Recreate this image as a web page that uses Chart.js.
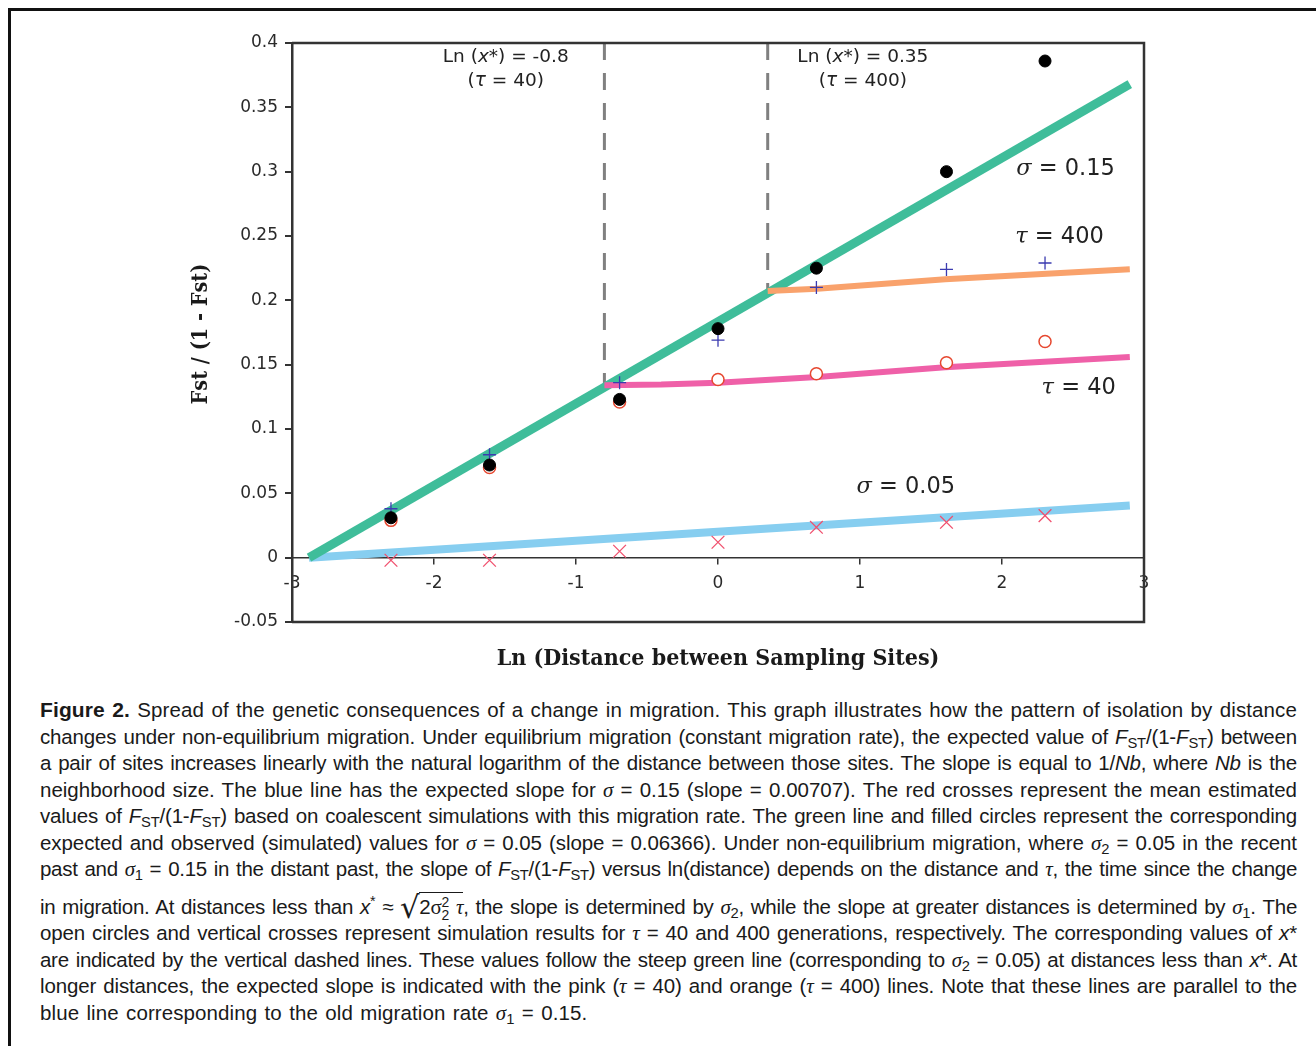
<!DOCTYPE html>
<html><head><meta charset="utf-8">
<script src="https://cdn.jsdelivr.net/npm/chart.js@4.4.0/dist/chart.umd.min.js"></script>
<style>
html,body{margin:0;padding:0;background:#fff;width:1316px;height:1046px;overflow:hidden;position:relative;}
#frame{position:absolute;left:8px;top:8px;width:1400px;height:1100px;border-left:3px solid #111;border-top:3px solid #111;}
#wrap{position:absolute;left:0;top:0;width:1316px;height:690px;}
.cap{position:absolute;left:40px;width:1257px;font-family:"Liberation Sans",Arial,sans-serif;font-size:20.5px;color:#1a1a1a;white-space:nowrap;line-height:26px;height:26px;}
.cap b{font-weight:bold;font-size:21px;}
.g{font-family:"Liberation Serif",serif;font-style:italic;font-size:21px;}
.cap sub{font-size:0.72em;line-height:0;vertical-align:-0.3em;}
.ss{display:inline-block;vertical-align:-0.45em;font-size:0.68em;line-height:0.95;text-align:left;}
.ss span{display:block;}
.rad{font-size:1.5em;font-family:"DejaVu Sans";vertical-align:-0.12em;line-height:0;}
.ov{border-top:1.3px solid #1a1a1a;padding-top:2px;}
</style></head>
<body>
<div id="frame"></div>
<div id="wrap"><canvas id="c" width="1316" height="690"></canvas></div>

<div class="cap j" style="top:697px"><span><b>Figure 2.</b> Spread of the genetic consequences of a change in migration. This graph illustrates how the pattern of isolation by distance</span></div>
<div class="cap j" style="top:724px"><span>changes under non-equilibrium migration. Under equilibrium migration (constant migration rate), the expected value of <i>F</i><sub>ST</sub>/(1-<i>F</i><sub>ST</sub>) between</span></div>
<div class="cap j" style="top:750px"><span>a pair of sites increases linearly with the natural logarithm of the distance between those sites. The slope is equal to 1/<i>Nb</i>, where <i>Nb</i> is the</span></div>
<div class="cap j" style="top:777px"><span>neighborhood size. The blue line has the expected slope for <span class="g">σ</span> = 0.15 (slope = 0.00707). The red crosses represent the mean estimated</span></div>
<div class="cap j" style="top:803px"><span>values of <i>F</i><sub>ST</sub>/(1-<i>F</i><sub>ST</sub>) based on coalescent simulations with this migration rate. The green line and filled circles represent the corresponding</span></div>
<div class="cap j" style="top:830px"><span>expected and observed (simulated) values for <span class="g">σ</span> = 0.05 (slope = 0.06366). Under non-equilibrium migration, where <span class="g">σ</span><sub>2</sub> = 0.05 in the recent</span></div>
<div class="cap j" style="top:856px"><span>past and <span class="g">σ</span><sub>1</sub> = 0.15 in the distant past, the slope of <i>F</i><sub>ST</sub>/(1-<i>F</i><sub>ST</sub>) versus ln(distance) depends on the distance and <span class="g">τ</span>, the time since the change</span></div>
<div class="cap j" style="top:888px"><span>in migration. At distances less than <i>x</i><sup style="font-size:0.7em">*</sup> ≈ <span class="rad">√</span><span class="ov">2<span class="g" style="font-style:normal">σ</span><span class="ss"><span>2</span><span>2</span></span> <span class="g">τ</span></span>, the slope is determined by <span class="g">σ</span><sub>2</sub>, while the slope at greater distances is determined by <span class="g">σ</span><sub>1</sub>. The</span></div>
<div class="cap j" style="top:920px"><span>open circles and vertical crosses represent simulation results for <span class="g">τ</span> = 40 and 400 generations, respectively. The corresponding values of <i>x</i>*</span></div>
<div class="cap j" style="top:947px"><span>are indicated by the vertical dashed lines. These values follow the steep green line (corresponding to <span class="g">σ</span><sub>2</sub> = 0.05) at distances less than <i>x</i>*. At</span></div>
<div class="cap j" style="top:973px"><span>longer distances, the expected slope is indicated with the pink (<span class="g">τ</span> = 40) and orange (<span class="g">τ</span> = 400) lines. Note that these lines are parallel to the</span></div>
<div class="cap" style="top:1000px"><span style="letter-spacing:0.1px;word-spacing:1.5px">blue line corresponding to the old migration rate <span class="g">σ</span><sub>1</sub> = 0.15.</span></div>

<script>
// ---- Data ----
const lnDistance = [-2.303, -1.609, -0.693, 0, 0.693, 1.609, 2.303];
const sigma005Simulated = [0.031, 0.072, 0.123, 0.178, 0.225, 0.300, 0.386];   // filled circles
const tau400Simulated   = [0.038, 0.080, 0.136, 0.169, 0.210, 0.224, 0.229];   // vertical crosses (+)
const tau40Simulated    = [0.029, 0.070, 0.121, 0.1385, 0.143, 0.1515, 0.168]; // open circles
const sigma015Simulated = [-0.002, -0.002, 0.005, 0.012, 0.0236, 0.0275, 0.0327]; // red crosses (x)

const greenLineX = [-2.88, 2.9];
const greenLineY = [0, 0.368];
const blueLineX = [-2.88, 2.9];
const blueLineY = [0, 0.0405];
const pinkLineX = [-0.8, -0.4, 0, 0.7, 1.6, 2.9];
const pinkLineY = [0.134, 0.1345, 0.136, 0.1405, 0.148, 0.156];
const orangeLineX = [0.35, 0.7, 1.6, 2.9];
const orangeLineY = [0.2073, 0.209, 0.2163, 0.2241];
const dashedX = [-0.8, 0.35];
const dashedTopY = [0.4, 0.4];
const dashedBottomY = [0.134, 0.207];

const xTickValues = [-3, -2, -1, 0, 1, 2, 3];
const yTickValues = [-0.05, 0, 0.05, 0.1, 0.15, 0.2, 0.25, 0.3, 0.35, 0.4];

const zip = (xs, ys) => xs.map((x, i) => ({x, y: ys[i]}));

const lineDs = (xs, ys, color, w, order) => ({
  data: zip(xs, ys), showLine: true, pointRadius: 0, borderColor: color,
  borderWidth: w, borderCapStyle: 'butt', borderJoinStyle: 'round', order, tension: 0
});

const datasets = [
  lineDs(blueLineX, blueLineY, '#87cef0', 8, 10),
  lineDs(greenLineX, greenLineY, '#3fbd9a', 9, 9),
  lineDs(pinkLineX, pinkLineY, '#ef60a8', 6, 8),
  lineDs(orangeLineX, orangeLineY, '#f9a26c', 6, 8),
  {data: [{x: dashedX[0], y: dashedTopY[0]}, {x: dashedX[0], y: dashedBottomY[0]}], showLine: true, pointRadius: 0,
   borderColor: '#808080', borderWidth: 3, borderDash: [17, 13], borderCapStyle: 'butt', order: 11},
  {data: [{x: dashedX[1], y: dashedTopY[1]}, {x: dashedX[1], y: dashedBottomY[1]}], showLine: true, pointRadius: 0,
   borderColor: '#808080', borderWidth: 3, borderDash: [17, 13], borderCapStyle: 'butt', order: 11},
  {data: zip(lnDistance, sigma015Simulated), pointStyle: 'crossRot', pointRadius: 9, borderColor: '#f0506e', borderWidth: 1.3, order: 5},
  {data: zip(lnDistance, tau40Simulated), pointStyle: 'circle', pointRadius: 6, backgroundColor: '#ffffff', borderColor: '#e6472f', borderWidth: 1.5, order: 4},
  {data: zip(lnDistance, tau400Simulated), pointStyle: 'cross', pointRadius: 6.5, borderColor: '#3b3bb0', borderWidth: 1.3, order: 3},
  {data: zip(lnDistance, sigma005Simulated), pointStyle: 'circle', pointRadius: 6, backgroundColor: '#000000', borderColor: '#000000', borderWidth: 1, order: 2},
];

function drawRich(ctx, segs, cx, cy) {
  let total = 0;
  segs.forEach(s => { ctx.font = s.f; total += ctx.measureText(s.t).width; });
  let x = cx - total / 2;
  segs.forEach(s => { ctx.font = s.f; ctx.fillText(s.t, x, cy); x += ctx.measureText(s.t).width; });
}

const decorPlugin = {
  id: 'decor',
  afterDraw(chart) {
    const {ctx, chartArea: a, scales: {x, y}} = chart;
    ctx.save();
    ctx.strokeStyle = '#333';
    ctx.lineWidth = 2.5;
    ctx.beginPath();
    ctx.moveTo(a.left, a.top); ctx.lineTo(a.right, a.top); ctx.lineTo(a.right, a.bottom); ctx.lineTo(a.left, a.bottom);
    ctx.stroke();

    ctx.fillStyle = '#222';
    ctx.textBaseline = 'middle';
    ctx.textAlign = 'left';
    const N = '18.5px "DejaVu Sans"', I = 'italic 18.5px "DejaVu Sans"';
    drawRich(ctx, [{t: 'Ln (', f: N}, {t: 'x', f: I}, {t: '*) = -0.8', f: N}], x.getPixelForValue(-1.495), y.getPixelForValue(0.389));
    drawRich(ctx, [{t: '(', f: N}, {t: 'τ', f: I}, {t: ' = 40)', f: N}], x.getPixelForValue(-1.495), y.getPixelForValue(0.370));
    drawRich(ctx, [{t: 'Ln (', f: N}, {t: 'x', f: I}, {t: '*) = 0.35', f: N}], x.getPixelForValue(1.02), y.getPixelForValue(0.389));
    drawRich(ctx, [{t: '(', f: N}, {t: 'τ', f: I}, {t: ' = 400)', f: N}], x.getPixelForValue(1.02), y.getPixelForValue(0.370));

    const B = '22.5px "DejaVu Sans"', BI = 'italic 22.5px "DejaVu Serif"';
    drawRich(ctx, [{t: 'σ', f: BI}, {t: ' = 0.15', f: B}], x.getPixelForValue(2.447), y.getPixelForValue(0.302));
    drawRich(ctx, [{t: 'τ', f: BI}, {t: ' = 400', f: B}], x.getPixelForValue(2.405), y.getPixelForValue(0.249));
    drawRich(ctx, [{t: 'τ', f: BI}, {t: ' = 40', f: B}], x.getPixelForValue(2.54), y.getPixelForValue(0.1317));
    drawRich(ctx, [{t: 'σ', f: BI}, {t: ' = 0.05', f: B}], x.getPixelForValue(1.322), y.getPixelForValue(0.0548));

    // axis titles
    ctx.fillStyle = '#1a1a1a';
    ctx.textAlign = 'center';
    ctx.font = 'bold 23px "DejaVu Serif Condensed", "DejaVu Serif", serif';
    ctx.fillText('Ln (Distance between Sampling Sites)', 718, 659);
    ctx.translate(201, 334);
    ctx.rotate(-Math.PI / 2);
    ctx.font = 'bold 21.5px "DejaVu Serif Condensed", "DejaVu Serif", serif';
    ctx.fillText('Fst / (1 - Fst)', 0, 0);
    ctx.restore();
  }
};

new Chart(document.getElementById('c'), {
  type: 'scatter',
  data: {datasets},
  options: {
    responsive: false,
    animation: false,
    events: [],
    layout: {padding: {left: 0, top: 43, right: 172, bottom: 68}},
    plugins: {legend: {display: false}, tooltip: {enabled: false}},
    scales: {
      x: {
        type: 'linear', min: -3, max: 3, position: {y: 0},
        afterBuildTicks: s => { s.ticks = xTickValues.map(v => ({value: v})); },
        ticks: {callback: v => String(v), color: '#2a2a2a', font: {family: 'DejaVu Sans', size: 17}, padding: 10, maxRotation: 0, autoSkip: false},
        grid: {display: true, drawOnChartArea: false, drawTicks: true, tickLength: 6, color: '#333', lineWidth: 1.5},
        border: {display: true, color: '#333', width: 1.5}
      },
      y: {
        type: 'linear', min: -0.05, max: 0.4, position: 'left',
        afterFit: s => { s.width = 292; },
        afterBuildTicks: s => { s.ticks = yTickValues.map(v => ({value: v})); },
        ticks: {callback: v => String(Number(v.toFixed(2))), color: '#2a2a2a', font: {family: 'DejaVu Sans', size: 17}, padding: 7, autoSkip: false},
        grid: {display: true, drawOnChartArea: false, drawTicks: true, tickLength: 7, color: '#333', lineWidth: 2},
        border: {display: true, color: '#333', width: 2.5}
      }
    }
  },
  plugins: [decorPlugin]
});

// justify caption lines to the full width, keeping word gaps tight as in the original
function fitLines() {
  const target = 1257;
  document.querySelectorAll('.cap.j').forEach(el => {
    const span = el.firstElementChild;
    const txt = span.textContent;
    const spaces = (txt.match(/ /g) || []).length;
    let ls = -0.5;
    span.style.letterSpacing = ls + 'px';
    span.style.wordSpacing = '0px';
    let w = span.getBoundingClientRect().width;
    const maxExtra = 1.5 * spaces;
    if (w > target || target - w > maxExtra) {
      const goal = w > target ? target : target - maxExtra;
      ls += (goal - w) / txt.length;
      span.style.letterSpacing = ls + 'px';
      w = span.getBoundingClientRect().width;
    }
    if (spaces) span.style.wordSpacing = ((target - w) / spaces) + 'px';
  });
}
fitLines();
</script>
</body></html>
